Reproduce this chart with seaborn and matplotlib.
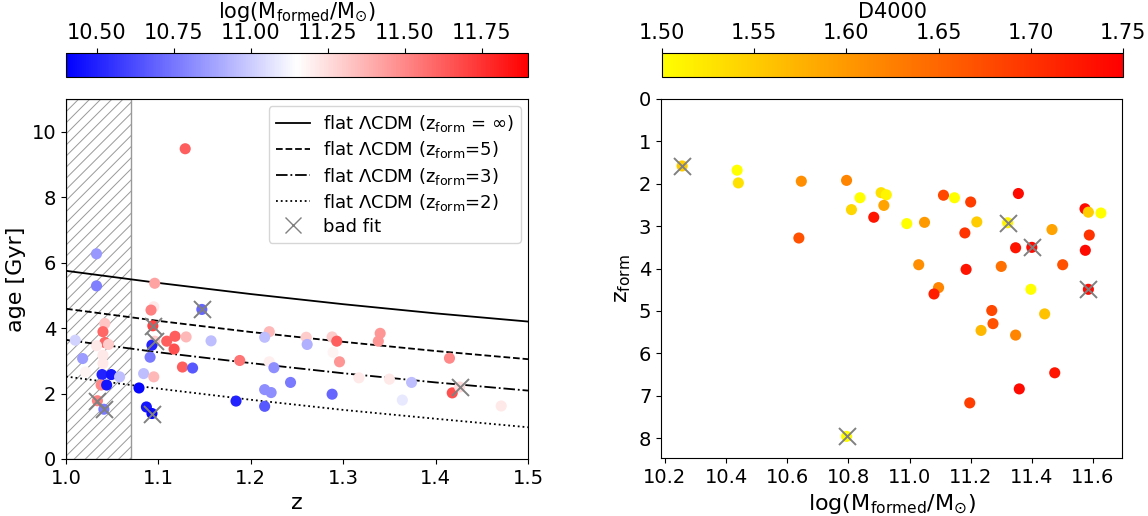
import numpy as np
import pandas as pd
import matplotlib
matplotlib.use("Agg")
import matplotlib.pyplot as plt
import seaborn as sns
from matplotlib.lines import Line2D
from matplotlib.cm import ScalarMappable
from matplotlib.colors import Normalize

plt.rcParams["hatch.linewidth"] = 0.7

# ---------------- left panel data ----------------
z_left = [1.129, 1.033, 1.033, 1.096, 1.095, 1.092, 1.147, 1.042, 1.040, 1.094,
          1.042, 1.046, 1.033, 1.010, 1.096, 1.093, 1.109, 1.118, 1.130, 1.117,
          1.157, 1.091, 1.018, 1.040, 1.040, 1.021, 1.188, 1.126, 1.137, 1.220,
          1.215, 1.220, 1.225, 1.084, 1.095, 1.039, 1.049, 1.058, 1.038, 1.044,
          1.079, 1.034, 1.041, 1.087, 1.093, 1.184, 1.215, 1.222, 1.215, 1.243,
          1.260, 1.261, 1.288, 1.293, 1.289, 1.296, 1.340, 1.338, 1.317, 1.350,
          1.374, 1.288, 1.415, 1.418, 1.426, 1.364, 1.471]
age_left = [9.48, 6.27, 5.29, 5.37, 4.65, 4.55, 4.57, 4.14, 3.89, 4.07,
            3.56, 3.50, 3.46, 3.63, 3.60, 3.48, 3.60, 3.75, 3.73, 3.36,
            3.61, 3.11, 3.07, 3.17, 2.92, 2.66, 3.01, 2.81, 2.78, 3.89,
            3.72, 2.97, 2.79, 2.61, 2.51, 2.58, 2.58, 2.51, 2.26, 2.26,
            2.17, 1.78, 1.52, 1.59, 1.39, 1.77, 2.12, 2.03, 1.61, 2.34,
            3.72, 3.50, 3.73, 3.60, 3.26, 2.97, 3.84, 3.60, 2.48, 2.44,
            2.34, 1.98, 3.08, 2.02, 2.20, 1.80, 1.62]
mass_left = [11.62, 10.85, 10.78, 11.42, 11.22, 11.52, 10.70, 11.32, 11.60, 11.70,
             11.60, 11.30, 11.22, 11.02, 11.30, 10.50, 11.62, 11.62, 11.36, 11.66,
             10.96, 10.76, 10.86, 11.22, 11.22, 11.18, 11.56, 11.62, 10.66, 11.36,
             10.96, 11.20, 10.82, 10.96, 11.36, 10.50, 10.46, 10.96, 11.50, 10.46,
             10.42, 11.52, 10.76, 10.46, 10.42, 10.50, 10.82, 10.82, 10.66, 10.76,
             11.30, 10.92, 11.30, 11.62, 11.18, 11.46, 11.46, 11.46, 11.22, 11.22,
             10.96, 10.70, 11.50, 11.66, 11.26, 11.08, 11.22]
bad_left = [0, 0, 0, 0, 0, 0, 1, 0, 0, 1,
            0, 0, 0, 0, 1, 0, 0, 0, 0, 0,
            0, 0, 0, 0, 0, 0, 0, 0, 0, 0,
            0, 0, 0, 0, 0, 0, 0, 0, 0, 0,
            0, 1, 1, 0, 1, 0, 0, 0, 0, 0,
            0, 0, 0, 0, 0, 0, 0, 0, 0, 0,
            0, 0, 0, 0, 1, 0, 0]

# flat LCDM model ages read at z = 1.0 ... 1.5
z_model = [1.0, 1.1, 1.2, 1.3, 1.4, 1.5]
age_inf = [5.75, 5.38, 5.04, 4.73, 4.45, 4.20]
age_z5 = [4.59, 4.22, 3.88, 3.58, 3.30, 3.05]
age_z3 = [3.64, 3.26, 2.93, 2.62, 2.34, 2.09]
age_z2 = [2.52, 2.15, 1.81, 1.50, 1.23, 0.97]

# ---------------- right panel data ----------------
mass_right = [10.256, 10.436, 10.440, 10.646, 10.638, 10.794, 10.838, 10.810, 10.883, 10.907,
              10.924, 10.916, 10.794, 10.991, 11.049, 11.030, 11.111, 11.147, 11.200, 11.220,
              11.181, 11.185, 11.095, 11.080, 11.321, 11.356, 11.347, 11.400, 11.300, 11.397,
              11.269, 11.273, 11.234, 11.347, 11.442, 11.466, 11.501, 11.574, 11.585, 11.626,
              11.588, 11.575, 11.585, 11.475, 11.359, 11.197]
zform_right = [1.58, 1.68, 1.98, 1.94, 3.28, 1.92, 2.33, 2.61, 2.79, 2.21,
               2.26, 2.51, 7.96, 2.94, 2.91, 3.91, 2.27, 2.33, 2.43, 2.90,
               3.16, 4.02, 4.45, 4.60, 2.92, 2.23, 3.51, 3.50, 3.95, 4.49,
               4.99, 5.30, 5.46, 5.57, 5.07, 3.08, 3.91, 2.59, 2.67, 2.69,
               3.21, 3.57, 4.49, 6.46, 6.84, 7.17]
d4000_right = [1.55, 1.50, 1.53, 1.61, 1.67, 1.62, 1.50, 1.54, 1.73, 1.53,
               1.51, 1.59, 1.50, 1.50, 1.60, 1.61, 1.68, 1.50, 1.69, 1.55,
               1.70, 1.73, 1.62, 1.72, 1.51, 1.74, 1.73, 1.74, 1.64, 1.50,
               1.68, 1.67, 1.57, 1.62, 1.56, 1.59, 1.67, 1.74, 1.55, 1.50,
               1.70, 1.74, 1.74, 1.73, 1.74, 1.69]
bad_right = [1, 0, 0, 0, 0, 0, 0, 0, 0, 0,
             0, 0, 1, 0, 0, 0, 0, 0, 0, 0,
             0, 0, 0, 0, 1, 0, 0, 1, 0, 0,
             0, 0, 0, 0, 0, 0, 0, 0, 0, 0,
             0, 0, 1, 0, 0, 0]

df_l = pd.DataFrame({"z": z_left, "age": age_left, "mass": mass_left, "bad": bad_left})
df_r = pd.DataFrame({"mass": mass_right, "zform": zform_right, "d4000": d4000_right, "bad": bad_right})
df_m = pd.DataFrame({"z": z_model, "inf": age_inf, "z5": age_z5, "z3": age_z3, "z2": age_z2})

W, H = 1148, 516
fig = plt.figure(figsize=(W / 100, H / 100), dpi=100)

def ax_rect(x0, y0, x1, y1):
    return [x0 / W, 1 - y1 / H, (x1 - x0) / W, (y1 - y0) / H]

axL = fig.add_axes(ax_rect(66, 99, 528, 459))
axR = fig.add_axes(ax_rect(661, 99, 1122, 458))
caxL = fig.add_axes(ax_rect(66, 53, 528, 77))
caxR = fig.add_axes(ax_rect(662, 53, 1123, 77))

TICK = 14
LAB = 16

# ---- left ----
normL = Normalize(10.4, 11.9)
axL.axvspan(1.0, 1.07, facecolor="none", hatch="///", edgecolor="0.6", linewidth=1.0, zorder=0)
sns.scatterplot(data=df_l, x="z", y="age", hue="mass", palette="bwr", hue_norm=normL,
                s=64, linewidth=0, legend=False, ax=axL, zorder=3)
bl = df_l[df_l["bad"] == 1]
sns.scatterplot(data=bl, x="z", y="age", marker="x", color="grey", s=150, linewidth=1.4,
                legend=False, ax=axL, zorder=4)
sns.lineplot(data=df_m, x="z", y="inf", color="k", linestyle="-", lw=1.3, ax=axL)
sns.lineplot(data=df_m, x="z", y="z5", color="k", linestyle="--", lw=1.3, ax=axL)
sns.lineplot(data=df_m, x="z", y="z3", color="k", linestyle="-.", lw=1.3, ax=axL)
sns.lineplot(data=df_m, x="z", y="z2", color="k", linestyle=":", lw=1.3, ax=axL)
axL.set_xlim(1.0, 1.5)
axL.set_ylim(0, 11)
axL.set_xticks([1.0, 1.1, 1.2, 1.3, 1.4, 1.5])
axL.set_yticks([0, 2, 4, 6, 8, 10])
axL.set_xlabel("z", fontsize=LAB)
axL.set_ylabel("age [Gyr]", fontsize=LAB)
axL.tick_params(labelsize=TICK)
handles = [
    Line2D([], [], color="k", ls="-", lw=1.3),
    Line2D([], [], color="k", ls="--", lw=1.3),
    Line2D([], [], color="k", ls="-.", lw=1.3),
    Line2D([], [], color="k", ls=":", lw=1.3),
    Line2D([], [], color="grey", marker="x", ls="none", markersize=12, mew=1.0),
]
labels = [
    r"flat $\Lambda$CDM (z$_{\rm form}$ = $\infty$)",
    r"flat $\Lambda$CDM (z$_{\rm form}$=5)",
    r"flat $\Lambda$CDM (z$_{\rm form}$=3)",
    r"flat $\Lambda$CDM (z$_{\rm form}$=2)",
    "bad fit",
]
axL.legend(handles, labels, loc="upper right", fontsize=13, handlelength=1.9,
           labelspacing=0.28, borderaxespad=0.4, handletextpad=0.7)

cbL = fig.colorbar(ScalarMappable(norm=normL, cmap="bwr"), cax=caxL, orientation="horizontal")
caxL.xaxis.set_ticks_position("top")
caxL.xaxis.set_label_position("top")
cbL.set_ticks([10.5, 10.75, 11.0, 11.25, 11.5, 11.75])
cbL.set_label(r"log(M$_{\rm formed}$/M$_{\odot}$)", fontsize=15)
caxL.tick_params(labelsize=15)

# ---- right ----
normR = Normalize(1.5, 1.75)
sns.scatterplot(data=df_r, x="mass", y="zform", hue="d4000", palette="autumn_r", hue_norm=normR,
                s=64, linewidth=0, legend=False, ax=axR, zorder=3)
br = df_r[df_r["bad"] == 1]
sns.scatterplot(data=br, x="mass", y="zform", marker="x", color="grey", s=150, linewidth=1.4,
                legend=False, ax=axR, zorder=4)
axR.set_ylim(8.47, 0)
axR.set_xlim(10.187, 11.695)
axR.set_xticks([10.2, 10.4, 10.6, 10.8, 11.0, 11.2, 11.4, 11.6])
axR.set_yticks(range(0, 9))
axR.set_xlabel(r"log(M$_{\rm formed}$/M$_{\odot}$)", fontsize=LAB)
axR.set_ylabel(r"z$_{\rm form}$", fontsize=LAB)
axR.tick_params(labelsize=TICK)

cbR = fig.colorbar(ScalarMappable(norm=normR, cmap="autumn_r"), cax=caxR, orientation="horizontal")
caxR.xaxis.set_ticks_position("top")
caxR.xaxis.set_label_position("top")
cbR.set_ticks([1.5, 1.55, 1.6, 1.65, 1.7, 1.75])
cbR.set_label("D4000", fontsize=15)
caxR.tick_params(labelsize=15)

fig.savefig("out.png", dpi=100)
